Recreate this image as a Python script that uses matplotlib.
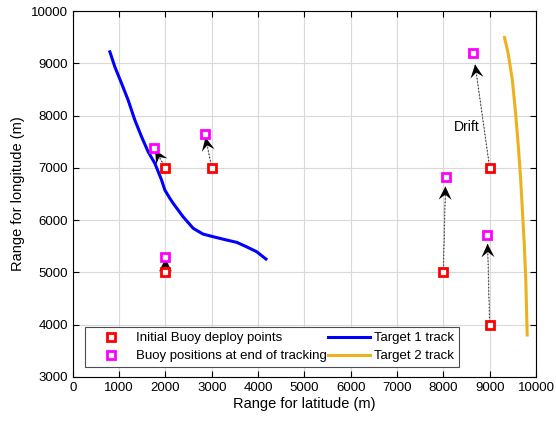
import matplotlib
matplotlib.use('Agg')
import matplotlib.pyplot as plt
import numpy as np

plt.rcParams['font.family'] = ['Liberation Sans', 'DejaVu Sans']

# Buoy positions (m)
init_x = [2000, 2000, 3000, 8000, 9000, 9000]
init_y = [5000, 7000, 7000, 5000, 7000, 4000]
end_x = [2000, 1750, 2850, 8050, 8650, 8950]
end_y = [5300, 7380, 7650, 6830, 9200, 5720]

# Target tracks
t1_x = [800, 907, 1052, 1194, 1339, 1484, 1626, 1771, 1916, 1987, 2095, 2167, 2380,
        2600, 2810, 3030, 3320, 3540, 3750, 3970, 4170]
t1_y = [9220, 8933, 8616, 8297, 7914, 7595, 7308, 7086, 6767, 6576, 6417, 6321, 6065,
        5843, 5734, 5683, 5620, 5575, 5491, 5396, 5256]
t2_x = [9320, 9400, 9490, 9560, 9620, 9670, 9710, 9750, 9780, 9800, 9810]
t2_y = [9495, 9187, 8679, 8042, 7403, 6767, 6130, 5491, 4855, 4153, 3803]

fig, ax = plt.subplots(figsize=(5.56, 4.25), dpi=100)
fig.subplots_adjust(left=0.131, right=0.964, top=0.974, bottom=0.113)

ix = np.array(init_x, float)
iy = np.array(init_y, float)
dx = np.array(end_x, float) - ix
dy = np.array(end_y, float) - iy
scale = 0.9

# dotted drift lines and arrow heads
for x0, y0, u, v in zip(ix, iy, dx, dy):
    ax.plot([x0, x0 + scale * u], [y0, y0 + scale * v], ':', color='0.3', lw=0.9, zorder=2)
ax.quiver(ix, iy, scale * dx, scale * dy, angles='xy', scale_units='xy', scale=1,
          width=0.0005, headwidth=56, headlength=58, headaxislength=36,
          color='black', zorder=3)

h1, = ax.plot(init_x, init_y, 's', ms=5.5, mfc='white', mec='red', mew=2.0,
              ls='none', zorder=4, label='Initial Buoy deploy points')
h2, = ax.plot(end_x, end_y, 's', ms=5.5, mfc='white', mec='magenta', mew=2.0,
              ls='none', zorder=4, label='Buoy positions at end of tracking')
h3, = ax.plot(t1_x, t1_y, color='#0000FF', lw=2.2, label='Target 1 track', zorder=3,
              solid_joinstyle='round')
h4, = ax.plot(t2_x, t2_y, color='#EDB120', lw=2.2, label='Target 2 track', zorder=3,
              solid_joinstyle='round')

ax.text(8510, 7780, 'Drift', fontsize=10, ha='center', va='center')

ax.set_xlim(0, 10000)
ax.set_ylim(3000, 10000)
ax.set_xticks(np.arange(0, 10001, 1000))
ax.set_yticks(np.arange(3000, 10001, 1000))
ax.tick_params(direction='in', top=True, right=True, labelsize=9.5, length=4)
ax.grid(True, color='0.85', lw=0.8)
ax.set_axisbelow(True)
for s in ax.spines.values():
    s.set_linewidth(0.8)
ax.set_xlabel('Range for latitude (m)', fontsize=10.5, labelpad=2)
ax.set_ylabel('Range for longitude (m)', fontsize=10.5, labelpad=4)

leg = ax.legend(handles=[h1, h2, h3, h4], ncol=2, loc='lower left',
                bbox_to_anchor=(0.026, 0.027), fontsize=9.5, fancybox=False,
                edgecolor='0.3', framealpha=1, handlelength=3.2,
                columnspacing=0.1, borderpad=0.35, labelspacing=0.45,
                handletextpad=0.3, borderaxespad=0)
leg.get_frame().set_linewidth(0.8)

fig.savefig('out.png', dpi=100)
